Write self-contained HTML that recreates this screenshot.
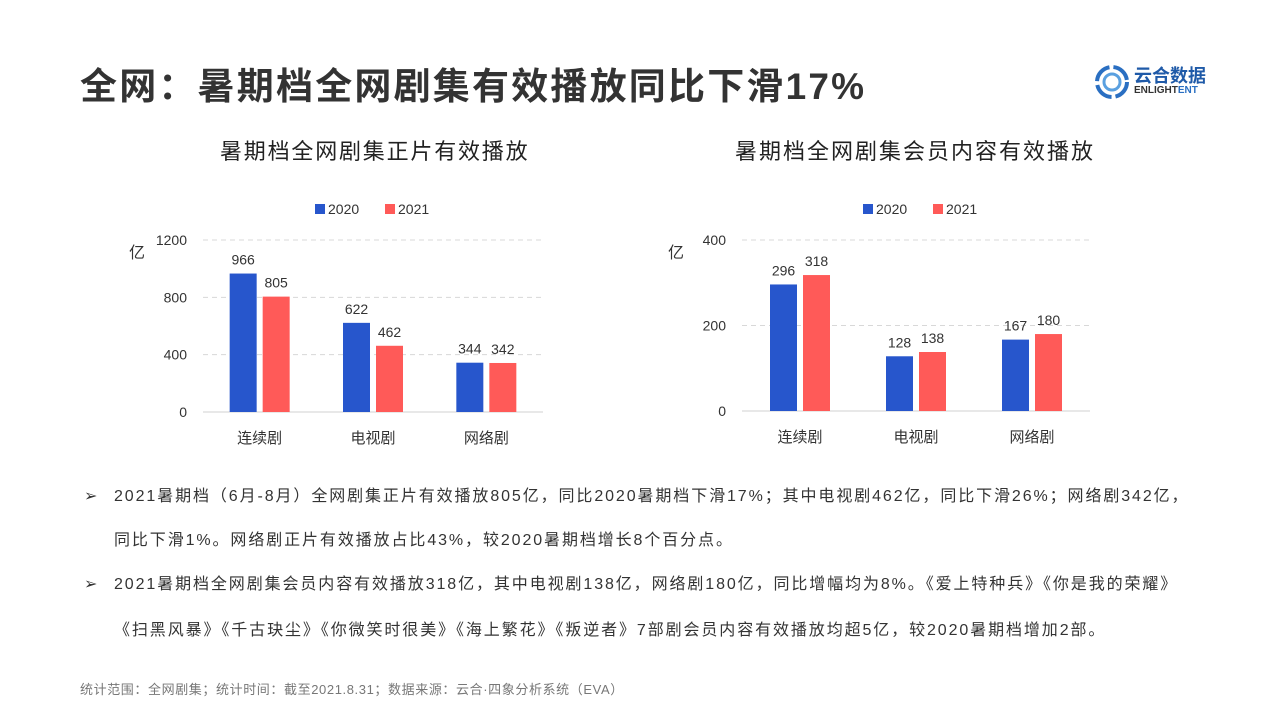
<!DOCTYPE html>
<html><head><meta charset="utf-8"><style>
body{margin:0;width:1279px;height:719px;background:#fff;overflow:hidden;font-family:"Liberation Sans","Noto Sans CJK SC",sans-serif;position:relative}
.t{position:absolute;white-space:nowrap}
</style></head><body>
<div class="t" style="left:80px;top:56px;font-size:37px;font-weight:bold;color:#333;letter-spacing:2.2px">全网：暑期档全网剧集有效播放同比下滑17%</div>
<div style="position:absolute;left:1094px;top:62px;width:130px;height:40px">
<svg width="36" height="36" style="position:absolute;left:0;top:2px"><circle cx="18" cy="18" r="15" fill="none" stroke="#2a6fc2" stroke-width="4" stroke-dasharray="20 4"/><circle cx="18" cy="18" r="8" fill="none" stroke="#5aa0e0" stroke-width="3"/></svg>
<div class="t" style="left:40px;top:0;font-size:18px;font-weight:bold;color:#1f5aa8">云合数据</div>
<div class="t" style="left:40px;top:23px;font-size:10px;font-weight:bold;color:#333">ENLIGHT<span style="color:#2a6fc2">ENT</span></div>
</div>
<div class="t" style="left:220px;top:134px;font-size:22px;color:#222;letter-spacing:1.8px">暑期档全网剧集正片有效播放</div>
<div class="t" style="left:735px;top:134px;font-size:22px;color:#222;letter-spacing:2px">暑期档全网剧集会员内容有效播放</div>
<svg id="chart" width="1279" height="460" style="position:absolute;left:0;top:0"></svg>
<div style="position:absolute;left:84px;top:484px;font-size:16px;color:#333;line-height:26px;letter-spacing:1.9px">
<div class="t" style="left:0;top:0">➢</div><div class="t" style="left:30px;top:0">2021暑期档（6月-8月）全网剧集正片有效播放805亿，同比2020暑期档下滑17%；其中电视剧462亿，同比下滑26%；网络剧342亿，</div>
<div class="t" style="left:30px;top:44px">同比下滑1%。网络剧正片有效播放占比43%，较2020暑期档增长8个百分点。</div>
<div class="t" style="left:0;top:88px">➢</div><div class="t" style="left:30px;top:88px">2021暑期档全网剧集会员内容有效播放318亿，其中电视剧138亿，网络剧180亿，同比增幅均为8%。《爱上特种兵》《你是我的荣耀》</div>
<div class="t" style="left:30px;top:134px">《扫黑风暴》《千古玦尘》《你微笑时很美》《海上繁花》《叛逆者》7部剧会员内容有效播放均超5亿，较2020暑期档增加2部。</div>
</div>
<div class="t" style="left:80px;top:679px;font-size:13px;color:#777;letter-spacing:0.6px">统计范围：全网剧集；统计时间：截至2021.8.31；数据来源：云合·四象分析系统（EVA）</div>
<script>
const categories=["连续剧","电视剧","网络剧"];
const left2020=[966,622,344];
const left2021=[805,462,342];
const leftTicks=[0,400,800,1200];
const right2020=[296,128,167];
const right2021=[318,138,180];
const rightTicks=[0,200,400];
const svg=document.getElementById('chart');
const NS='http://www.w3.org/2000/svg';
function mk(tag,attrs,txt){const e=document.createElementNS(NS,tag);for(const k in attrs)e.setAttribute(k,attrs[k]);if(txt!==undefined)e.textContent=txt;svg.appendChild(e);return e;}
function draw(cfg){
  const y=v=>cfg.y0-(v/cfg.max)*(cfg.y0-cfg.yTop);
  cfg.ticks.forEach(t=>{
    const l=mk('line',{x1:cfg.x0,x2:cfg.x1,y1:y(t),y2:y(t),stroke:t===0?'#d0d0d0':'#d8d8d8','stroke-dasharray':t===0?'':'5 4'});
    
    const tx=mk('text',{x:cfg.x0-16,y:y(t)+5,'text-anchor':'end','font-size':14,fill:'#333'},t);
    
  });
  const u=mk('text',{x:cfg.x0-74,y:cfg.yTop+18,'font-size':16,fill:'#333'},'亿');
  
  const gw=(cfg.x1-cfg.x0)/categories.length;
  categories.forEach((c,i)=>{
    const cx=cfg.x0+gw*(i+0.5);
    [[cfg.a,'#2756cc',-30],[cfg.b,'#ff5a58',3]].forEach(([arr,col,off])=>{
      const v=arr[i];
      const r=mk('rect',{x:cx+off,y:y(v),width:27,height:cfg.y0-y(v),fill:col});
      
      const t=mk('text',{x:cx+off+13.5,y:y(v)-9,'text-anchor':'middle','font-size':14,fill:'#333'},v);
      
    });
    const l=mk('text',{x:cx,y:cfg.y0+31,'text-anchor':'middle','font-size':15,fill:'#333'},c);
    
  });
  [['2020','#2756cc',0],['2021','#ff5a58',70]].forEach(([n,col,dx])=>{
    const r=mk('rect',{x:cfg.lx+dx,y:204,width:10,height:10,fill:col});
    
    const t=mk('text',{x:cfg.lx+dx+13,y:214,'font-size':14,fill:'#333'},n);
    
  });
}
draw({x0:203,x1:543,y0:412,yTop:240,max:1200,ticks:leftTicks,a:left2020,b:left2021,lx:315});
draw({x0:742,x1:1090,y0:411,yTop:240,max:400,ticks:rightTicks,a:right2020,b:right2021,lx:863});
</script>
</body></html>
